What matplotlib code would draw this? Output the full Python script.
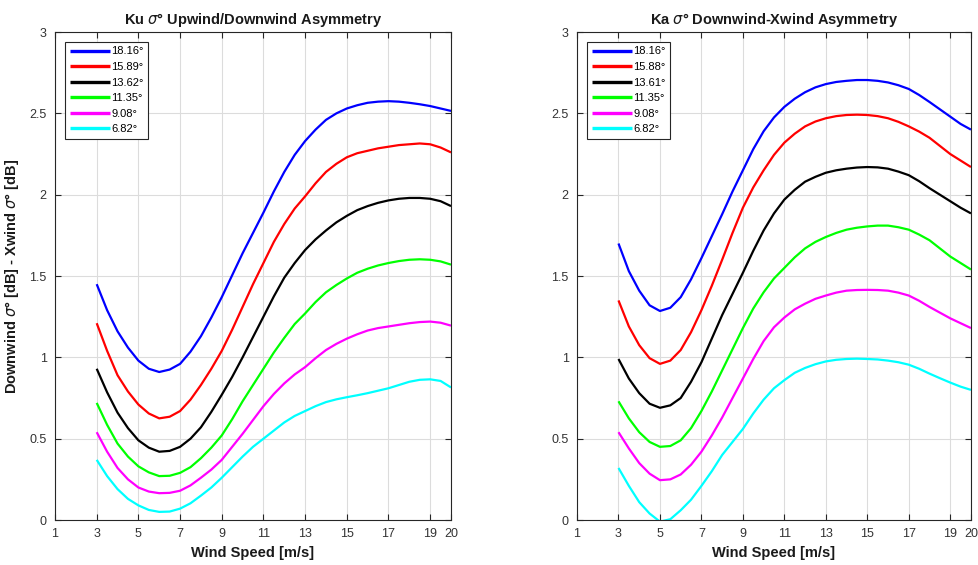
import matplotlib
matplotlib.use("Agg")
import matplotlib.pyplot as plt

plt.rcParams['font.family'] = ['Liberation Sans', 'DejaVu Sans']
plt.rcParams['mathtext.fontset'] = 'dejavusans'

# wind speeds [m/s], sampled every 0.5 m/s from 3 to 20
wind = [3.0, 3.5, 4.0, 4.5, 5.0, 5.5, 6.0, 6.5, 7.0, 7.5, 8.0, 8.5, 9.0, 9.5,
        10.0, 10.5, 11.0, 11.5, 12.0, 12.5, 13.0, 13.5, 14.0, 14.5, 15.0, 15.5,
        16.0, 16.5, 17.0, 17.5, 18.0, 18.5, 19.0, 19.5, 20.0]

# Ku band: downwind minus crosswind sigma0 [dB], one list per incidence angle
ku_labels = ["18.16°", "15.89°", "13.62°", "11.35°", "9.08°", "6.82°"]
ku_1816 = [1.45, 1.29, 1.16, 1.06, 0.98, 0.93, 0.91, 0.925, 0.96, 1.035, 1.13, 1.245,
           1.37, 1.505, 1.64, 1.765, 1.89, 2.02, 2.14, 2.245, 2.33, 2.40, 2.46, 2.50,
           2.53, 2.55, 2.565, 2.572, 2.575, 2.572, 2.565, 2.556, 2.545, 2.53, 2.515]
ku_1589 = [1.21, 1.04, 0.89, 0.79, 0.71, 0.655, 0.625, 0.635, 0.67, 0.74, 0.83, 0.93,
           1.04, 1.17, 1.31, 1.45, 1.58, 1.71, 1.82, 1.915, 1.99, 2.07, 2.14, 2.19,
           2.23, 2.255, 2.27, 2.285, 2.295, 2.305, 2.31, 2.315, 2.31, 2.29, 2.26]
ku_1362 = [0.93, 0.785, 0.66, 0.565, 0.49, 0.445, 0.42, 0.425, 0.45, 0.50, 0.57, 0.665,
           0.77, 0.88, 1.00, 1.125, 1.25, 1.375, 1.49, 1.58, 1.66, 1.725, 1.78, 1.83,
           1.87, 1.905, 1.93, 1.95, 1.965, 1.975, 1.98, 1.98, 1.975, 1.96, 1.93]
ku_1135 = [0.72, 0.585, 0.47, 0.39, 0.33, 0.293, 0.27, 0.272, 0.29, 0.325, 0.38, 0.445,
           0.52, 0.62, 0.73, 0.83, 0.93, 1.03, 1.12, 1.205, 1.27, 1.34, 1.40, 1.445,
           1.485, 1.52, 1.545, 1.565, 1.58, 1.592, 1.60, 1.603, 1.60, 1.59, 1.57]
ku_908 = [0.54, 0.42, 0.32, 0.25, 0.20, 0.175, 0.165, 0.167, 0.18, 0.213, 0.26, 0.31,
          0.37, 0.45, 0.53, 0.615, 0.70, 0.775, 0.84, 0.895, 0.94, 0.995, 1.045, 1.083,
          1.115, 1.142, 1.165, 1.18, 1.19, 1.20, 1.21, 1.217, 1.22, 1.213, 1.195]
ku_682 = [0.37, 0.27, 0.19, 0.13, 0.09, 0.062, 0.05, 0.052, 0.07, 0.103, 0.15, 0.20,
          0.26, 0.325, 0.39, 0.45, 0.50, 0.55, 0.60, 0.64, 0.67, 0.70, 0.725, 0.742,
          0.755, 0.767, 0.78, 0.795, 0.81, 0.83, 0.85, 0.862, 0.865, 0.855, 0.815]

# Ka band: downwind minus crosswind sigma0 [dB], one list per incidence angle
ka_labels = ["18.16°", "15.88°", "13.61°", "11.35°", "9.08°", "6.82°"]
ka_1816 = [1.70, 1.53, 1.41, 1.32, 1.285, 1.305, 1.37, 1.48, 1.61, 1.745, 1.88, 2.02,
           2.15, 2.28, 2.39, 2.475, 2.54, 2.59, 2.63, 2.66, 2.68, 2.693, 2.70, 2.705,
           2.705, 2.70, 2.69, 2.673, 2.65, 2.613, 2.57, 2.525, 2.48, 2.435, 2.40]
ka_1588 = [1.35, 1.19, 1.075, 0.995, 0.96, 0.98, 1.045, 1.155, 1.29, 1.44, 1.60, 1.765,
           1.92, 2.045, 2.15, 2.245, 2.32, 2.375, 2.42, 2.45, 2.47, 2.483, 2.49, 2.492,
           2.49, 2.483, 2.47, 2.448, 2.42, 2.388, 2.35, 2.30, 2.25, 2.21, 2.17]
ka_1361 = [0.99, 0.87, 0.78, 0.715, 0.69, 0.705, 0.75, 0.85, 0.97, 1.115, 1.26, 1.39,
           1.52, 1.655, 1.78, 1.885, 1.97, 2.03, 2.08, 2.11, 2.135, 2.15, 2.16, 2.167,
           2.17, 2.168, 2.16, 2.142, 2.12, 2.083, 2.04, 2.00, 1.96, 1.92, 1.885]
ka_1135 = [0.73, 0.625, 0.54, 0.48, 0.45, 0.455, 0.49, 0.565, 0.67, 0.79, 0.92, 1.05,
           1.18, 1.30, 1.40, 1.485, 1.55, 1.615, 1.67, 1.71, 1.74, 1.765, 1.785, 1.797,
           1.805, 1.81, 1.81, 1.80, 1.785, 1.755, 1.72, 1.67, 1.62, 1.58, 1.54]
ka_908 = [0.54, 0.44, 0.35, 0.285, 0.245, 0.25, 0.28, 0.34, 0.42, 0.52, 0.63, 0.75,
          0.87, 0.99, 1.10, 1.185, 1.245, 1.295, 1.33, 1.36, 1.38, 1.398, 1.41, 1.414,
          1.415, 1.414, 1.41, 1.398, 1.38, 1.348, 1.31, 1.275, 1.24, 1.21, 1.18]
ka_682 = [0.32, 0.21, 0.11, 0.04, -0.01, 0.005, 0.06, 0.125, 0.21, 0.30, 0.40, 0.48,
          0.56, 0.655, 0.74, 0.81, 0.86, 0.905, 0.935, 0.958, 0.975, 0.985, 0.99, 0.992,
          0.99, 0.987, 0.98, 0.97, 0.955, 0.93, 0.90, 0.872, 0.845, 0.82, 0.80]

colors = ["#0000ff", "#ff0000", "#000000", "#00ff00", "#ff00ff", "#00ffff"]
xticks = [1, 3, 5, 7, 9, 11, 13, 15, 17, 19, 20]
yticks = [0, 0.5, 1, 1.5, 2, 2.5, 3]
ytick_labels = ["0", "0.5", "1", "1.5", "2", "2.5", "3"]

fig = plt.figure(figsize=(9.79, 5.65), dpi=100)
ax1 = fig.add_axes([0.0562, 0.0796, 0.4045, 0.8637])
ax2 = fig.add_axes([0.5894, 0.0796, 0.4024, 0.8637])

panels = [
    (ax1, [ku_1816, ku_1589, ku_1362, ku_1135, ku_908, ku_682], ku_labels,
     r"Ku $\sigma$° Upwind/Downwind Asymmetry"),
    (ax2, [ka_1816, ka_1588, ka_1361, ka_1135, ka_908, ka_682], ka_labels,
     r"Ka $\sigma$° Downwind-Xwind Asymmetry"),
]

edge = "#262626"
for ax, series, labels, title in panels:
    for vals, c, lab in zip(series, colors, labels):
        ax.plot(wind, vals, color=c, lw=1.6, label=lab,
                solid_joinstyle='round', solid_capstyle='butt')
    ax.set_xlim(1, 20)
    ax.set_ylim(0, 3)
    ax.set_xticks(xticks)
    ax.set_xticklabels([str(t) for t in xticks])
    ax.set_yticks(yticks)
    ax.set_yticklabels(ytick_labels)
    ax.grid(True, color="#dcdcdc", lw=0.8)
    ax.set_axisbelow(True)
    ax.tick_params(direction="in", length=4, width=0.8, colors=edge,
                   labelsize=9, labelcolor="#333333", top=True, right=True, pad=6)
    for s in ax.spines.values():
        s.set_color(edge)
        s.set_linewidth(0.8)
    ax.set_title(title, fontsize=10.5, fontweight="bold", pad=6, color="#1a1a1a")
    ax.set_xlabel("Wind Speed [m/s]", fontsize=10.5, fontweight="bold",
                  color="#1a1a1a", labelpad=4)
    leg = ax.legend(loc="upper left", bbox_to_anchor=(0.025, 0.98), fontsize=8,
                    handlelength=3.6, handletextpad=0.15, labelspacing=0.5,
                    borderpad=0.42, borderaxespad=0.0, fancybox=False, framealpha=1)
    leg.get_frame().set_edgecolor(edge)
    leg.get_frame().set_linewidth(0.8)
    for line in leg.get_lines():
        line.set_linewidth(2.4)

ax1.set_ylabel(r"Downwind $\sigma$° [dB] - Xwind $\sigma$° [dB]", fontsize=10.5,
               fontweight="bold", color="#1a1a1a", labelpad=6)

fig.savefig("out.png", dpi=100)
